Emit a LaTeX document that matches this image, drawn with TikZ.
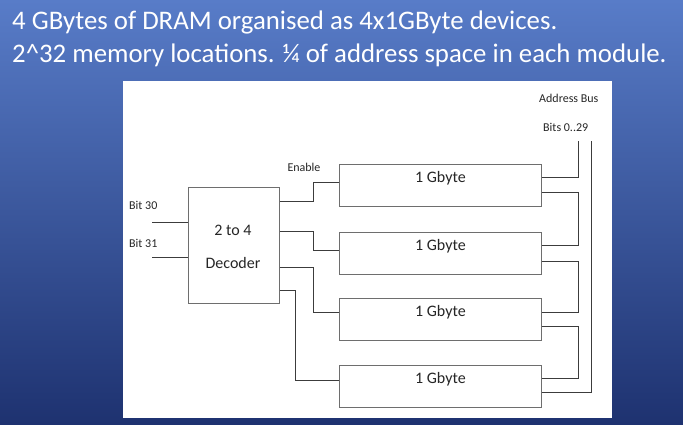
\documentclass[tikz,border=0pt]{standalone}
\usepackage{fontspec}
\setmainfont{Carlito}
\usetikzlibrary{calc}
\definecolor{bgtop}{RGB}{88,124,200}
\definecolor{bgbot}{RGB}{30,50,112}
\definecolor{wire}{RGB}{60,60,60}
\definecolor{boxline}{RGB}{110,110,110}
\tikzset{
  membox/.style={draw=boxline, line width=0.9pt, minimum width=202pt, minimum height=42pt, anchor=north west, inner sep=0pt},
  decbox/.style={draw=boxline, line width=0.9pt, minimum width=91pt, minimum height=116pt, anchor=north west, inner sep=0pt},
  small/.style={font=\fontsize{12}{14}\selectfont, inner sep=0pt, text=black!85},
  big/.style={font=\fontsize{16}{19}\selectfont, text=black!85},
  wireln/.style={draw=wire, line width=0.9pt},
  title/.style={font=\fontsize{26.8}{32}\selectfont, text=white, inner sep=0pt, anchor=base west}
}
\begin{document}
\begin{tikzpicture}[x=1pt,y=-1pt]
\useasboundingbox (0,0) rectangle (683,424);
\shade[top color=bgtop, bottom color=bgbot] (0,0) rectangle (683,424);
\fill[white] (123,81) rectangle (612,418);

\node[title] (t1) at (12,29) {4 GBytes of DRAM organised as 4x1GByte devices.};
\node[title] (t2) at (12,62) {2\^{}32 memory locations. ¼ of address space in each module.};

% decoder
\node[decbox] (dec) at (188,187) {};
\node[big] (dec1) at (233,230) {2 to 4};
\node[big] (dec2) at (233,263) {Decoder};

% memory
\foreach \i/\t in {1/164,2/232,3/298,4/365}{
  \node[membox, label={[big, yshift=7pt]center:1 Gbyte}] (m\i) at (339,\t) {};
}

% labels
\node[small, anchor=west] (l30) at (129,205) {Bit 30};
\node[small, anchor=west] (l31) at (129,243) {Bit 31};
\node[small] (len) at (304,167) {Enable};
\node[small, anchor=west] (lab) at (539,98) {Address Bus};
\node[small, anchor=west] (lbits) at (543,127) {Bits 0..29};

\coordinate (b30) at (152,222);
\coordinate (b31) at (152,257);
\draw[wireln] (b30) -- (dec.west|-b30);
\draw[wireln] (b31) -- (dec.west|-b31);

% decoder outputs
\draw[wireln] ($(dec.north east)+(0,14)$) -- (313,201) -- (313,182) -- ($(m1.north west)+(0,18)$);
\draw[wireln] ($(dec.north east)+(0,44)$) -- (313,231) -- (313,250) -- ($(m2.north west)+(0,18)$);
\draw[wireln] ($(dec.north east)+(0,80)$) -- (313,267) -- (313,312) -- ($(m3.north west)+(0,14)$);
\draw[wireln] ($(dec.north east)+(0,103)$) -- (295,290) -- (295,380) -- ($(m4.north west)+(0,15)$);

% address bus
\coordinate (busA) at (578,141);
\coordinate (busB) at (591,141);
\draw[wireln] (busA) -- (578,177) -- ($(m1.north east)+(0,13)$);
\draw[wireln] ($(m1.north east)+(0,28)$) -- (578,192) -- (578,245) -- ($(m2.north east)+(0,13)$);
\draw[wireln] ($(m2.north east)+(0,29)$) -- (578,261) -- (578,312) -- ($(m3.north east)+(0,14)$);
\draw[wireln] ($(m3.north east)+(0,28)$) -- (578,326) -- (578,378) -- ($(m4.north east)+(0,13)$);
\draw[wireln] ($(m4.north east)+(0,27)$) -- (591,392) -- (busB);
\end{tikzpicture}
\end{document}
